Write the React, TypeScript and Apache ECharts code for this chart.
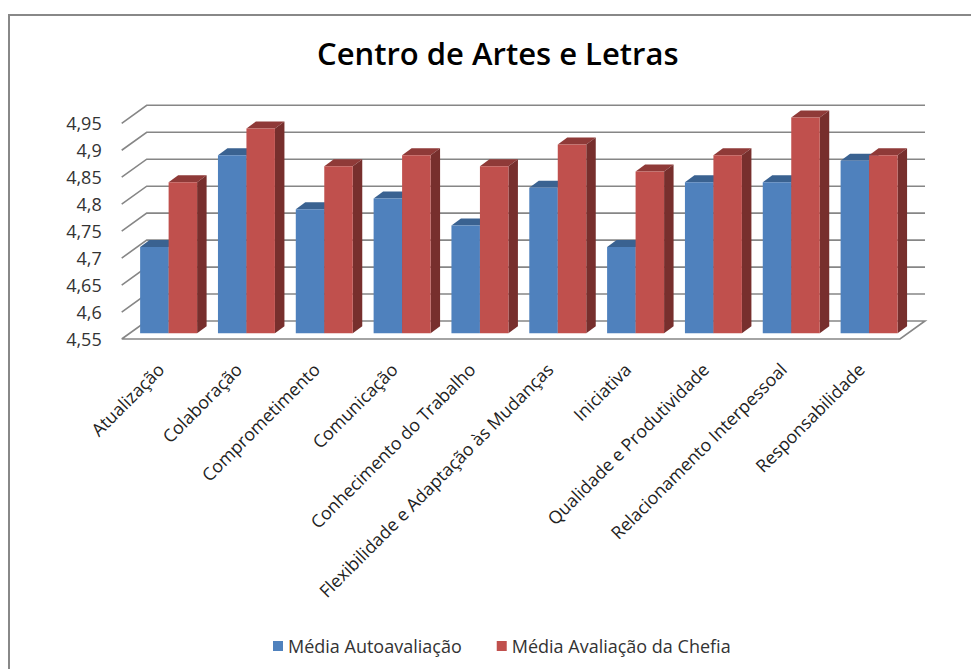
import React, { useEffect, useRef } from "react";
import * as echarts from "echarts";

const categories = [
  "Atualização",
  "Colaboração",
  "Comprometimento",
  "Comunicação",
  "Conhecimento do Trabalho",
  "Flexibilidade e Adaptação às Mudanças",
  "Iniciativa",
  "Qualidade e Produtividade",
  "Relacionamento Interpessoal",
  "Responsabilidade",
];
const autoavaliacao = [4.71, 4.88, 4.78, 4.8, 4.75, 4.82, 4.71, 4.83, 4.83, 4.87];
const chefia = [4.83, 4.93, 4.86, 4.88, 4.86, 4.9, 4.85, 4.88, 4.95, 4.88];
const gridValues = [4.55, 4.6, 4.65, 4.7, 4.75, 4.8, 4.85, 4.9, 4.95];
const AXIS_MIN = 4.55;
const FONT = "'Open Sans', 'Noto Sans', sans-serif";

const WALL_DX = 25;
const WALL_DY = -18;
const BAR_DX = 8;
const BAR_DY = -5.7;
const DEPTH_DX = 9.5;
const DEPTH_DY = -7;
const BAR_RATIO = 0.366;

function barSeries(name: string, values: number[], index: number, front: string, top: string, side: string) {
  return {
    name,
    type: "custom",
    z: 5,
    itemStyle: { color: front },
    data: values.map((v, i) => [i, v]),
    encode: { x: 0, y: 1 },
    renderItem: (_p: any, api: any) => {
      const w = api.size([1, 0])[0] * BAR_RATIO;
      const c = api.coord([api.value(0), api.value(1)]);
      const b = api.coord([api.value(0), AXIS_MIN]);
      const x0 = c[0] + BAR_DX + (index - 1) * w;
      const x1 = x0 + w;
      const yt = c[1] + BAR_DY;
      const yb = b[1] + BAR_DY;
      return {
        type: "group",
        children: [
          {
            type: "polygon",
            shape: { points: [[x0, yt], [x1, yt], [x1 + DEPTH_DX, yt + DEPTH_DY], [x0 + DEPTH_DX, yt + DEPTH_DY]] },
            style: { fill: top },
          },
          {
            type: "polygon",
            shape: { points: [[x1, yt], [x1 + DEPTH_DX, yt + DEPTH_DY], [x1 + DEPTH_DX, yb + DEPTH_DY], [x1, yb]] },
            style: { fill: side },
          },
          { type: "rect", shape: { x: x0, y: yt, width: w, height: yb - yt }, style: { fill: front } },
        ],
      };
    },
  };
}

const App = () => {
  const ref = useRef<HTMLDivElement>(null);
  useEffect(() => {
    const chart = echarts.init(ref.current!, undefined, { renderer: "svg" });
    chart.setOption({
      animation: false,
      backgroundColor: "#fff",
      title: {
        text: "Centro de Artes e Letras",
        left: 312,
        top: 32,
        textStyle: { fontFamily: FONT, fontSize: 31, fontWeight: 600, color: "#000" },
      },
      legend: {
        left: 268,
        top: 632,
        icon: "rect",
        itemWidth: 10,
        itemHeight: 10,
        itemGap: 35,
        textStyle: { fontFamily: FONT, fontSize: 18, color: "#333" },
        data: ["Média Autoavaliação", "Média Avaliação da Chefia"],
      },
      graphic: [
        {
          type: "polyline",
          shape: { points: [[9, 669], [9, 15], [971, 15]] },
          style: { fill: "none", stroke: "#888888", lineWidth: 2 },
          silent: true,
        },
      ],
      grid: { left: 121.7, top: 123.3, width: 778.3, height: 215.7 },
      xAxis: {
        type: "category",
        data: categories,
        axisLine: { show: false },
        axisTick: { show: false },
        axisLabel: {
          interval: 0,
          rotate: 45,
          margin: 27,
          fontFamily: FONT,
          fontSize: 17.7,
          color: "#222",
        },
      },
      yAxis: {
        type: "value",
        min: 4.55,
        max: 4.95,
        interval: 0.05,
        axisLine: { show: false },
        axisTick: { show: false },
        splitLine: { show: false },
        axisLabel: {
          margin: 20,
          fontFamily: FONT,
          fontSize: 18,
          color: "#333",
          formatter: (v: number) => String(v).replace(".", ","),
        },
      },
      series: [
        {
          type: "custom",
          z: 1,
          silent: true,
          data: gridValues.map((v) => [0, v]),
          encode: { x: 0, y: 1 },
          renderItem: (p: any, api: any) => {
            const y = api.coord([0, api.value(1)])[1];
            const x0 = p.coordSys.x;
            const x1 = x0 + p.coordSys.width;
            const style = { stroke: "#868686", lineWidth: 1.6, fill: "none" };
            const isFloor = api.value(1) === AXIS_MIN;
            const pts = [[x0, y], [x0 + WALL_DX, y + WALL_DY], [x1 + WALL_DX, y + WALL_DY]];
            if (isFloor) pts.push([x1, y], [x0, y]);
            return { type: "polyline", shape: { points: pts }, style };
          },
        },
        barSeries("Média Autoavaliação", autoavaliacao, 0, "#4F81BD", "#3A6291", "#2F5079"),
        barSeries("Média Avaliação da Chefia", chefia, 1, "#C0504D", "#8F3A38", "#772F2D"),
      ],
    });
    return () => chart.dispose();
  }, []);
  return <div ref={ref} style={{ position: "absolute", left: 0, top: 0, width: 971, height: 669 }} />;
};

export default App;
